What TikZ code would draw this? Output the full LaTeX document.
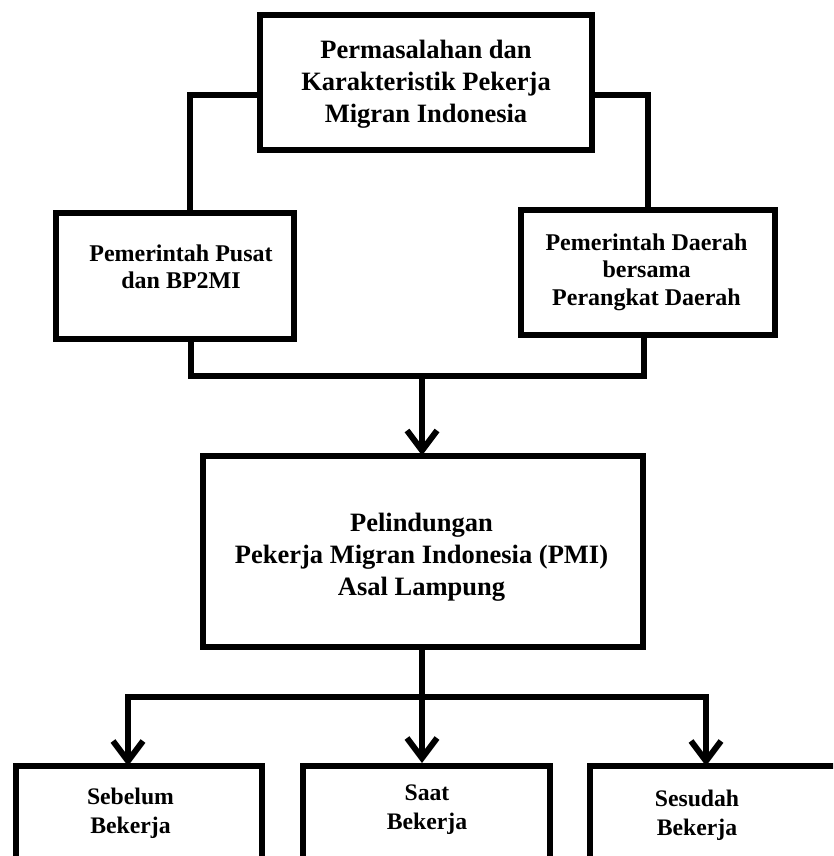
\documentclass[tikz,border=0pt]{standalone}
\usepackage{fontspec}
\setmainfont{Liberation Serif}
\usetikzlibrary{arrows.meta}
\begin{document}
\begin{tikzpicture}[x=1pt,y=-1pt,
  box/.style={draw, line width=6pt, inner sep=0pt},
  conn/.style={line width=6pt, line join=miter},
  arr/.style={conn, -{Straight Barb[length=20pt,width=30pt]}},
  txt/.style={align=center, inner sep=0pt},
  bigtxt/.style={txt, font=\fontsize{26.5}{32}\selectfont\bfseries},
  midtxt/.style={txt, font=\fontsize{24}{27.5}\selectfont\bfseries},
  smalltxt/.style={txt, font=\fontsize{23.7}{29}\selectfont\bfseries}
]
\useasboundingbox (0,0) rectangle (833,856);
\clip (0,0) rectangle (833,856);
% boxes
\node[box, minimum width=332pt, minimum height=135pt] (top) at (426,82.5) {};
\node[box, minimum width=238pt, minimum height=126pt] (pusat) at (175,276) {};
\node[box, minimum width=254pt, minimum height=125pt] (daerah) at (648,272.5) {};
\node[box, minimum width=440pt, minimum height=191pt] (mid) at (422.5,551) {};
\node[box, minimum width=246pt, minimum height=134pt] (seb) at (139,833) {};
\node[box, minimum width=247pt, minimum height=134pt] (sat) at (426.5,833) {};
\node[box, minimum width=280pt, minimum height=134pt] (ses) at (730,833) {};
% texts
\node[bigtxt] (tTop) at (426,84) {Permasalahan dan\\Karakteristik Pekerja\\Migran Indonesia};
\node[midtxt] (tPusat) at (181,267) {Pemerintah Pusat\\dan BP2MI};
\node[midtxt] (tDaerah) at (646.5,272) {Pemerintah Daerah\\bersama\\Perangkat Daerah};
\node[bigtxt] (tMid) at (421.5,557) {Pelindungan\\Pekerja Migran Indonesia (PMI)\\Asal Lampung};
\node[smalltxt] (tSeb) at (130.5,813) {Sebelum\\Bekerja};
\node[smalltxt] (tSat) at (427,810) {Saat\\Bekerja};
\node[smalltxt] (tSes) at (697,815) {Sesudah\\Bekerja};
% coordinates
\coordinate (aL) at (190,95);
\coordinate (aR) at (648,95);
\coordinate (bL) at (191,376);
\coordinate (bR) at (644,376);
\coordinate (hub) at (422,697);
\coordinate (tL) at (128,766);
\coordinate (tR) at (706,766);
% connectors
\draw[conn] (top.west |- aL) -| (aL |- pusat.north);
\draw[conn] (top.east |- aR) -| (aR |- daerah.north);
\draw[conn] (bL |- pusat.south) |- (bR) -- (bR |- daerah.south);
\draw[arr] (422,376) -- (422,455.5);
\draw[conn] (mid.south -| hub) -- (hub);
\draw[arr] (hub) -| (tL);
\draw[arr] (hub) -| (tR);
\draw[arr] (hub) -- (hub |- sat.north);
\end{tikzpicture}
\end{document}
